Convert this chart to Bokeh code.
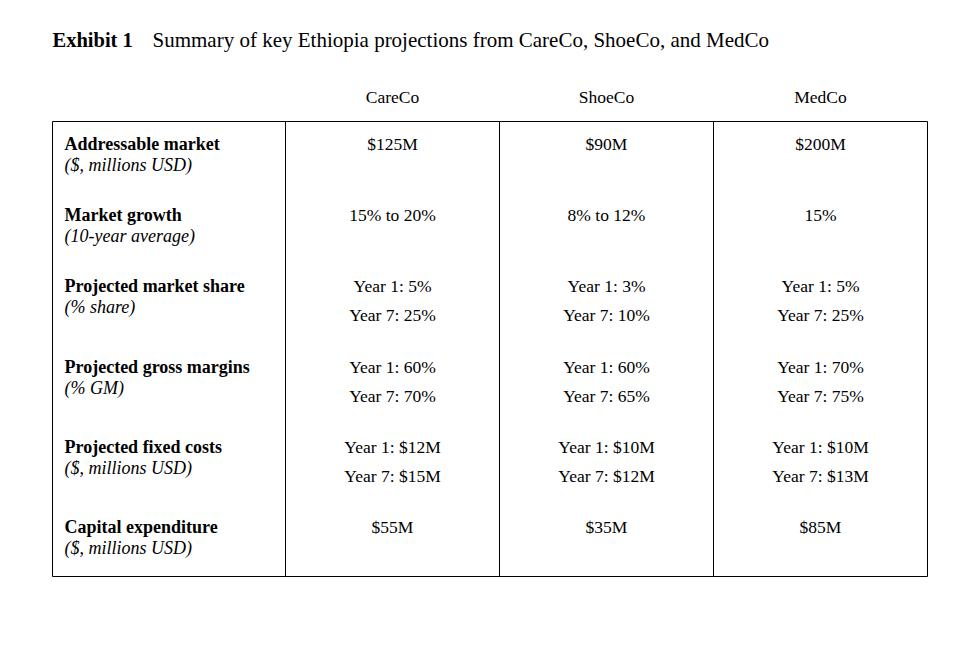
from bokeh.plotting import figure
from bokeh.models import Range1d
from bokeh.core.properties import value
from bokeh.embed import file_html
from bokeh.resources import INLINE

title_bold = "Exhibit 1"
title_text = "Summary of key Ethiopia projections from CareCo, ShoeCo, and MedCo"
companies = ["CareCo", "ShoeCo", "MedCo"]
row_labels = ["Addressable market", "Market growth", "Projected market share",
              "Projected gross margins", "Projected fixed costs", "Capital expenditure"]
row_units = ["($, millions USD)", "(10-year average)", "(% share)", "(% GM)",
             "($, millions USD)", "($, millions USD)"]
addressable = ["$125M", "$90M", "$200M"]
growth = ["15% to 20%", "8% to 12%", "15%"]
share_y1 = ["Year 1: 5%", "Year 1: 3%", "Year 1: 5%"]
share_y7 = ["Year 7: 25%", "Year 7: 10%", "Year 7: 25%"]
gm_y1 = ["Year 1: 60%", "Year 1: 60%", "Year 1: 70%"]
gm_y7 = ["Year 7: 70%", "Year 7: 65%", "Year 7: 75%"]
fc_y1 = ["Year 1: $12M", "Year 1: $10M", "Year 1: $10M"]
fc_y7 = ["Year 7: $15M", "Year 7: $12M", "Year 7: $13M"]
capex = ["$55M", "$35M", "$85M"]

W, H = 952, 646
p = figure(width=W, height=H, output_backend="svg", toolbar_location=None,
           x_range=Range1d(0, W), y_range=Range1d(H, 0),
           min_border=0, outline_line_color=None)
p.axis.visible = False
p.grid.visible = False

FONT = value("Liberation Serif")
FS = "17.5px"
FS_LABEL = "18px"

# title
p.text(x=[52], y=[39], text=[title_bold], text_font=FONT, text_font_size="20.5px",
       text_font_style="bold", text_baseline="middle", text_color="black")
p.text(x=[152], y=[39], text=[title_text], text_font=FONT, text_font_size="21px",
       text_baseline="middle", text_color="black")

# table geometry
left, right, top, bottom = 52, 927, 121, 576
col_edges = [285, 499, 713]
col_centers = [(col_edges[i] + (col_edges[i + 1] if i < 2 else right)) / 2 for i in range(3)]

p.quad(left=[left], right=[right], top=[top], bottom=[bottom],
       fill_color=None, line_color="black", line_width=1)
p.segment(x0=col_edges, x1=col_edges, y0=[top] * 3, y1=[bottom] * 3,
          line_color="black", line_width=1)

# headers
p.text(x=col_centers, y=[96] * 3, text=companies, text_font=FONT, text_font_size=FS,
       text_align="center", text_baseline="middle", text_color="black")

row_y = [143, 214, 285, 366, 446, 526]
p.text(x=[64] * 6, y=row_y, text=row_labels, text_font=FONT, text_font_size=FS_LABEL,
       text_font_style="bold", text_baseline="middle", text_color="black")
p.text(x=[64] * 6, y=[y + 21 for y in row_y], text=row_units, text_font=FONT,
       text_font_size=FS_LABEL, text_font_style="italic", text_baseline="middle", text_color="black")

single = {0: addressable, 1: growth, 5: capex}
double = {2: (share_y1, share_y7), 3: (gm_y1, gm_y7), 4: (fc_y1, fc_y7)}
for r, vals in single.items():
    p.text(x=col_centers, y=[row_y[r]] * 3, text=vals, text_font=FONT, text_font_size=FS,
           text_align="center", text_baseline="middle", text_color="black")
for r, (v1, v7) in double.items():
    p.text(x=col_centers, y=[row_y[r]] * 3, text=v1, text_font=FONT, text_font_size=FS,
           text_align="center", text_baseline="middle", text_color="black")
    p.text(x=col_centers, y=[row_y[r] + 29] * 3, text=v7, text_font=FONT, text_font_size=FS,
           text_align="center", text_baseline="middle", text_color="black")

open("out.html", "w").write(file_html(p, INLINE))
